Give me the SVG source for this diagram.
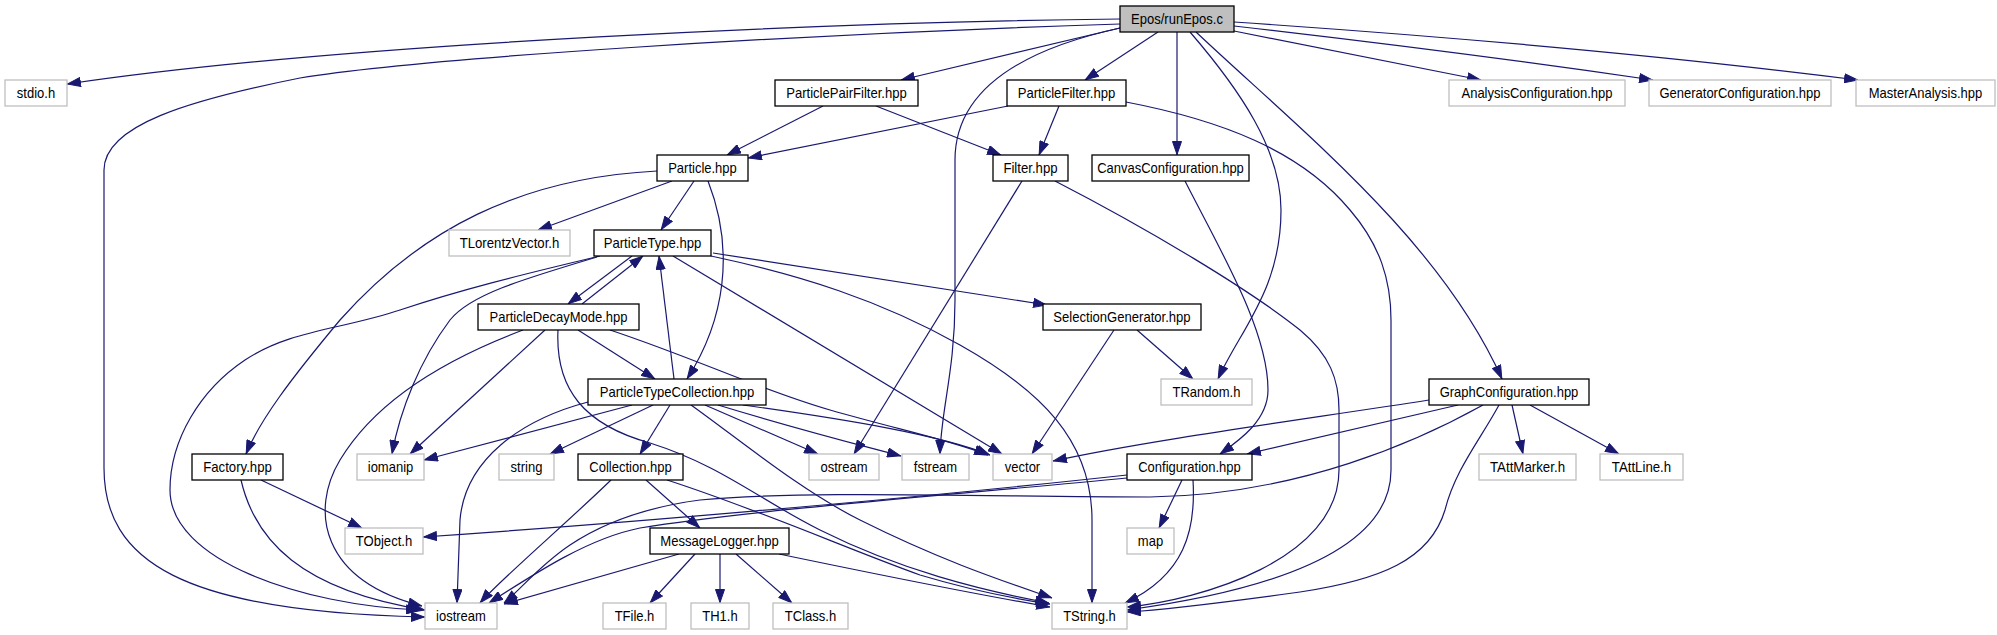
<svg xmlns="http://www.w3.org/2000/svg" width="1997" height="635" viewBox="0 0 1997 635">
<style>
.n rect{fill:#fff;stroke:#000;stroke-width:1.3}
.x rect{fill:#fff;stroke:#bfbfbf;stroke-width:1.3}
.r rect{fill:#bfbfbf;stroke:#000;stroke-width:1.3}
text{font-family:"Liberation Sans",Arial,sans-serif;font-size:15px;fill:#000;text-anchor:middle}
#edges path{fill:none;stroke:#191970;stroke-width:1.2;marker-end:url(#ah)}
</style>
<defs>
<marker id="ah" markerUnits="userSpaceOnUse" markerWidth="14" markerHeight="10" viewBox="0 0 14 10" refX="14" refY="5" orient="auto">
<path d="M0.5,0.5 L13.5,5 L0.5,9.5 z" fill="#191970" stroke="#191970"/>
</marker>
</defs>
<rect width="1997" height="635" fill="#fff"/>
<g id="edges">
<path d="M1120,19 C850,22 350,42 67,84"/>
<path d="M1120,24 C800,34 420,58 300,78 C190,100 104,125 104,170 L104,468 C104,560 180,612 425,617"/>
<path d="M1120,28 L901,80"/>
<path d="M1158,32 L1085,80"/>
<path d="M1120,28 C1020,50 955,90 955,160 L955,300 C955,370 941,410 940,454"/>
<path d="M1177,32 L1177,155"/>
<path d="M1190,32 C1240,90 1281,150 1281,210 C1281,290 1240,330 1218,379"/>
<path d="M1196,32 C1300,130 1440,240 1502,379"/>
<path d="M1234,31 L1481,80"/>
<path d="M1234,26 C1400,45 1550,65 1653,80"/>
<path d="M1234,22 C1500,40 1700,60 1858,80"/>
<path d="M823,106 L727,155"/>
<path d="M876,106 L1001,155"/>
<path d="M1008,106 L748,158"/>
<path d="M1059,106 L1039,155"/>
<path d="M1126,102 C1220,120 1300,150 1350,210 C1380,245 1391,280 1391,320 L1391,470 C1391,570 1200,600 1127,610"/>
<path d="M672,181 L538,230"/>
<path d="M694,181 L661,230"/>
<path d="M708,181 C735,250 725,320 687,379"/>
<path d="M657,171 C520,178 420,230 340,320 C290,380 260,420 246,454"/>
<path d="M1022,181 L854,454"/>
<path d="M1055,181 C1150,230 1250,290 1300,330 C1330,355 1339,380 1339,410 L1339,470 C1339,560 1200,600 1127,607"/>
<path d="M1185,181 C1220,250 1268,330 1268,390 C1268,420 1240,440 1220,454"/>
<path d="M632,256 L568,304"/>
<path d="M582,304 L643,256"/>
<path d="M713,253 L1047,305"/>
<path d="M673,256 L1002,454"/>
<path d="M711,256 C800,275 880,300 960,345 C1040,390 1092,440 1092,520 L1092,603"/>
<path d="M600,256 C520,275 460,290 400,310 C340,330 290,330 245,360 C200,390 170,440 170,490 C170,560 300,605 420,610"/>
<path d="M597,257 C520,280 470,295 450,320 C420,360 400,410 392,454"/>
<path d="M578,330 L655,379"/>
<path d="M610,330 C700,360 760,390 830,410 C900,430 950,440 988,455"/>
<path d="M545,330 L410,454"/>
<path d="M523,330 C430,365 370,410 340,460 C310,510 320,580 422,606"/>
<path d="M558,330 C555,390 585,425 650,443 C720,465 760,500 820,530 C900,570 980,590 1049,603"/>
<path d="M674,379 L659,256"/>
<path d="M632,405 L424,460"/>
<path d="M653,405 L550,454"/>
<path d="M670,405 L640,454"/>
<path d="M705,405 L818,454"/>
<path d="M718,405 C800,430 860,445 901,456"/>
<path d="M743,405 C850,420 940,435 990,455"/>
<path d="M691,405 C740,440 800,490 860,520 C940,560 1000,580 1052,598"/>
<path d="M588,402 C520,420 465,460 460,520 L457,603"/>
<path d="M1137,330 L1193,379"/>
<path d="M1114,330 L1032,454"/>
<path d="M1429,400 C1300,420 1150,440 1053,461"/>
<path d="M1458,405 L1247,454"/>
<path d="M1512,405 L1523,454"/>
<path d="M1530,405 L1619,454"/>
<path d="M1499,405 C1480,440 1455,470 1445,510 C1430,560 1380,580 1300,592 C1220,603 1160,610 1127,612"/>
<path d="M1483,405 C1420,440 1300,495 1150,497 C1000,497 800,490 700,500 C640,508 600,525 570,545 C540,565 520,590 504,603"/>
<path d="M261,480 L362,528"/>
<path d="M241,480 C255,540 300,590 425,610"/>
<path d="M646,480 L700,528"/>
<path d="M611,480 C570,520 500,580 480,603"/>
<path d="M667,480 C760,510 850,550 920,575 C970,590 1010,598 1050,604"/>
<path d="M1127,475 C900,500 600,525 423,537"/>
<path d="M1127,478 C950,495 750,510 640,528 C590,538 540,570 489,603"/>
<path d="M1182,480 L1159,528"/>
<path d="M1193,480 C1196,530 1185,575 1125,603"/>
<path d="M679,554 L504,604"/>
<path d="M695,554 L650,603"/>
<path d="M720,554 L720,603"/>
<path d="M736,554 L792,603"/>
<path d="M779,554 C880,575 980,595 1050,607"/>
</g>
<g id="node-root" class="r"><rect x="1120" y="6" width="114" height="26"/><text x="1177" y="24" textLength="91.8" lengthAdjust="spacingAndGlyphs">Epos/runEpos.c</text></g>
<g id="node-stdio" class="x"><rect x="5" y="80" width="62" height="26"/><text x="36" y="98" textLength="38.3" lengthAdjust="spacingAndGlyphs">stdio.h</text></g>
<g id="node-ppf" class="n"><rect x="775" y="80" width="143" height="26"/><text x="846.5" y="98" textLength="120.6" lengthAdjust="spacingAndGlyphs">ParticlePairFilter.hpp</text></g>
<g id="node-pf" class="n"><rect x="1007" y="80" width="119" height="26"/><text x="1066.5" y="98" textLength="97.5" lengthAdjust="spacingAndGlyphs">ParticleFilter.hpp</text></g>
<g id="node-analysis" class="x"><rect x="1449" y="80" width="176" height="26"/><text x="1537" y="98" textLength="151" lengthAdjust="spacingAndGlyphs">AnalysisConfiguration.hpp</text></g>
<g id="node-generator" class="x"><rect x="1649" y="80" width="182" height="26"/><text x="1740" y="98" textLength="161.1" lengthAdjust="spacingAndGlyphs">GeneratorConfiguration.hpp</text></g>
<g id="node-master" class="x"><rect x="1856" y="80" width="139" height="26"/><text x="1925.5" y="98" textLength="113.4" lengthAdjust="spacingAndGlyphs">MasterAnalysis.hpp</text></g>
<g id="node-particle" class="n"><rect x="657" y="155" width="91" height="26"/><text x="702.5" y="173" textLength="68.6" lengthAdjust="spacingAndGlyphs">Particle.hpp</text></g>
<g id="node-filter" class="n"><rect x="993" y="155" width="75" height="26"/><text x="1030.5" y="173" textLength="54.2" lengthAdjust="spacingAndGlyphs">Filter.hpp</text></g>
<g id="node-canvas" class="n"><rect x="1092" y="155" width="157" height="26"/><text x="1170.5" y="173" textLength="146.7" lengthAdjust="spacingAndGlyphs">CanvasConfiguration.hpp</text></g>
<g id="node-tlorentz" class="x"><rect x="449" y="230" width="121" height="26"/><text x="509.5" y="248" textLength="99.7" lengthAdjust="spacingAndGlyphs">TLorentzVector.h</text></g>
<g id="node-ptype" class="n"><rect x="594" y="230" width="117" height="26"/><text x="652.5" y="248" textLength="97.5" lengthAdjust="spacingAndGlyphs">ParticleType.hpp</text></g>
<g id="node-pdm" class="n"><rect x="478" y="304" width="161" height="26"/><text x="558.5" y="322" textLength="138" lengthAdjust="spacingAndGlyphs">ParticleDecayMode.hpp</text></g>
<g id="node-selgen" class="n"><rect x="1043" y="304" width="158" height="26"/><text x="1122" y="322" textLength="137.3" lengthAdjust="spacingAndGlyphs">SelectionGenerator.hpp</text></g>
<g id="node-ptc" class="n"><rect x="588" y="379" width="178" height="26"/><text x="677" y="397" textLength="154.6" lengthAdjust="spacingAndGlyphs">ParticleTypeCollection.hpp</text></g>
<g id="node-trandom" class="x"><rect x="1161" y="379" width="91" height="26"/><text x="1206.5" y="397" textLength="67.9" lengthAdjust="spacingAndGlyphs">TRandom.h</text></g>
<g id="node-graphconf" class="n"><rect x="1429" y="379" width="160" height="26"/><text x="1509" y="397" textLength="138.7" lengthAdjust="spacingAndGlyphs">GraphConfiguration.hpp</text></g>
<g id="node-factory" class="n"><rect x="192" y="454" width="91" height="26"/><text x="237.5" y="472" textLength="68.6" lengthAdjust="spacingAndGlyphs">Factory.hpp</text></g>
<g id="node-iomanip" class="x"><rect x="357" y="454" width="67" height="26"/><text x="390.5" y="472" textLength="45.5" lengthAdjust="spacingAndGlyphs">iomanip</text></g>
<g id="node-string" class="x"><rect x="499" y="454" width="55" height="26"/><text x="526.5" y="472" textLength="31.8" lengthAdjust="spacingAndGlyphs">string</text></g>
<g id="node-collection" class="n"><rect x="578" y="454" width="105" height="26"/><text x="630.5" y="472" textLength="82.4" lengthAdjust="spacingAndGlyphs">Collection.hpp</text></g>
<g id="node-ostream" class="x"><rect x="809" y="454" width="70" height="26"/><text x="844" y="472" textLength="47" lengthAdjust="spacingAndGlyphs">ostream</text></g>
<g id="node-fstream" class="x"><rect x="902" y="454" width="67" height="26"/><text x="935.5" y="472" textLength="43.3" lengthAdjust="spacingAndGlyphs">fstream</text></g>
<g id="node-vector" class="x"><rect x="993" y="454" width="59" height="26"/><text x="1022.5" y="472" textLength="35.4" lengthAdjust="spacingAndGlyphs">vector</text></g>
<g id="node-configuration" class="n"><rect x="1127" y="454" width="125" height="26"/><text x="1189.5" y="472" textLength="102.6" lengthAdjust="spacingAndGlyphs">Configuration.hpp</text></g>
<g id="node-tattmarker" class="x"><rect x="1479" y="454" width="97" height="26"/><text x="1527.5" y="472" textLength="75.1" lengthAdjust="spacingAndGlyphs">TAttMarker.h</text></g>
<g id="node-tattline" class="x"><rect x="1600" y="454" width="83" height="26"/><text x="1641.5" y="472" textLength="59.3" lengthAdjust="spacingAndGlyphs">TAttLine.h</text></g>
<g id="node-tobject" class="x"><rect x="345" y="528" width="78" height="26"/><text x="384" y="546" textLength="56.4" lengthAdjust="spacingAndGlyphs">TObject.h</text></g>
<g id="node-msglogger" class="n"><rect x="650" y="528" width="139" height="26"/><text x="719.5" y="546" textLength="118.5" lengthAdjust="spacingAndGlyphs">MessageLogger.hpp</text></g>
<g id="node-map" class="x"><rect x="1127" y="528" width="47" height="26"/><text x="1150.5" y="546" textLength="25.3" lengthAdjust="spacingAndGlyphs">map</text></g>
<g id="node-iostream" class="x"><rect x="425" y="603" width="72" height="26"/><text x="461" y="621" textLength="49.8" lengthAdjust="spacingAndGlyphs">iostream</text></g>
<g id="node-tfile" class="x"><rect x="603" y="603" width="63" height="26"/><text x="634.5" y="621" textLength="39.7" lengthAdjust="spacingAndGlyphs">TFile.h</text></g>
<g id="node-th1" class="x"><rect x="691" y="603" width="58" height="26"/><text x="720" y="621" textLength="35.4" lengthAdjust="spacingAndGlyphs">TH1.h</text></g>
<g id="node-tclass" class="x"><rect x="773" y="603" width="75" height="26"/><text x="810.5" y="621" textLength="51.3" lengthAdjust="spacingAndGlyphs">TClass.h</text></g>
<g id="node-tstring" class="x"><rect x="1052" y="603" width="75" height="26"/><text x="1089.5" y="621" textLength="52.7" lengthAdjust="spacingAndGlyphs">TString.h</text></g>
</svg>
